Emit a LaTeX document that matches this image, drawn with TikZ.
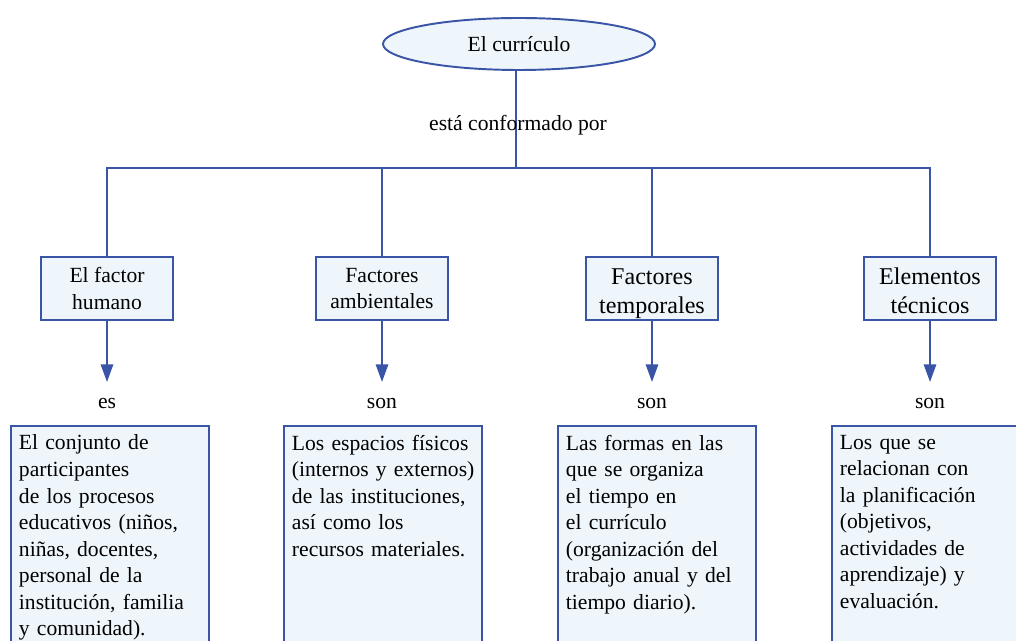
\documentclass[tikz,border=0pt]{standalone}
\usepackage{fontspec}
\setmainfont{Liberation Serif}
\usepackage{tikz}
\usetikzlibrary{arrows.meta,shapes.geometric}
\definecolor{mapblue}{HTML}{3A55A6}
\definecolor{mapfill}{HTML}{EEF6FC}
\newcommand{\smalltxt}{\fontsize{12.3}{15.1}\selectfont}
\newcommand{\bigtxt}{\fontsize{13.7}{16.6}\selectfont}
\newcommand{\lowtwo}[2]{\raisebox{-2.8pt}[\height][\depth]{\begin{tabular}{@{}c@{}}#1\\#2\end{tabular}}}

\begin{document}
\begin{tikzpicture}[x=0.02cm, y=-0.02cm,
   conn/.style={draw=mapblue, line width=1.1pt},
   arr/.style={conn, -{Triangle[width=7pt,length=10pt]}},
   topbox/.style={draw=mapblue, fill=mapfill, line width=1.1pt, minimum width=2.64cm, minimum height=1.26cm, align=center, inner sep=0pt},
   descbox/.style={draw=mapblue, fill=mapfill, line width=1.1pt, anchor=north west, text width=3.64cm, align=left, inner xsep=0.16cm, inner ysep=0.18cm, text depth=4.5cm, font=\smalltxt},
   linklabel/.style={font=\smalltxt, inner sep=0pt}]
   \useasboundingbox (0,0) rectangle (1016,641);
   \clip (0,0) rectangle (1016,641);
   \node[ellipse, draw=mapblue, fill=mapfill, line width=1.1pt, minimum width=5.44cm, minimum height=1.04cm, inner sep=0pt, font=\smalltxt] (curr) at (519,44) {El currículo};
   \coordinate (bus) at (516,168);
   \coordinate (tip) at (0,382);
   \draw[conn] (bus |- curr.south) -- (bus);
   \node[linklabel] (conf) at (518,125) {está conformado por};
   \node[topbox, font=\smalltxt] (human) at (107,288.5) {El factor\\humano};
   \node[topbox, font=\smalltxt] (amb) at (382,288.5) {Factores\\ambientales};
   \node[topbox, font=\bigtxt] (temp) at (652,288.5) {\lowtwo{Factores}{temporales}};
   \node[topbox, font=\bigtxt] (tec) at (930,288.5) {\lowtwo{Elementos}{técnicos}};
   \draw[conn] (human.north) |- (tec.north |- bus) -- (tec.north);
   \draw[conn] (amb.north) -- (amb.north |- bus);
   \draw[conn] (temp.north) -- (temp.north |- bus);
   \draw[arr] (human.south) -- (human.south |- tip);
   \draw[arr] (amb.south) -- (amb.south |- tip);
   \draw[arr] (temp.south) -- (temp.south |- tip);
   \draw[arr] (tec.south) -- (tec.south |- tip);
   \node[linklabel] (es) at (107,404) {es};
   \node[linklabel] (son1) at (382,404) {son};
   \node[linklabel] (son2) at (652,404) {son};
   \node[linklabel] (son3) at (930,404) {son};
   \node[descbox] (dhuman) at (10,425) {El conjunto de\\participantes\\de los procesos\\educativos (niños,\\niñas, docentes,\\personal de la\\institución, familia\\y comunidad).};
   \node[descbox] (damb) at (283,425) {Los espacios físicos\\\mbox{(internos y externos)}\\de las instituciones,\\así como los\\recursos materiales.};
   \node[descbox] (dtemp) at (557,425) {Las formas en las\\que se organiza\\el tiempo en\\el currículo\\(organización del\\trabajo anual y del\\tiempo diario).};
   \node[descbox] (dtec) at (831,425) {Los que se\\relacionan con\\la planificación\\(objetivos,\\actividades de\\aprendizaje) y\\evaluación.};
\end{tikzpicture}
\end{document}
